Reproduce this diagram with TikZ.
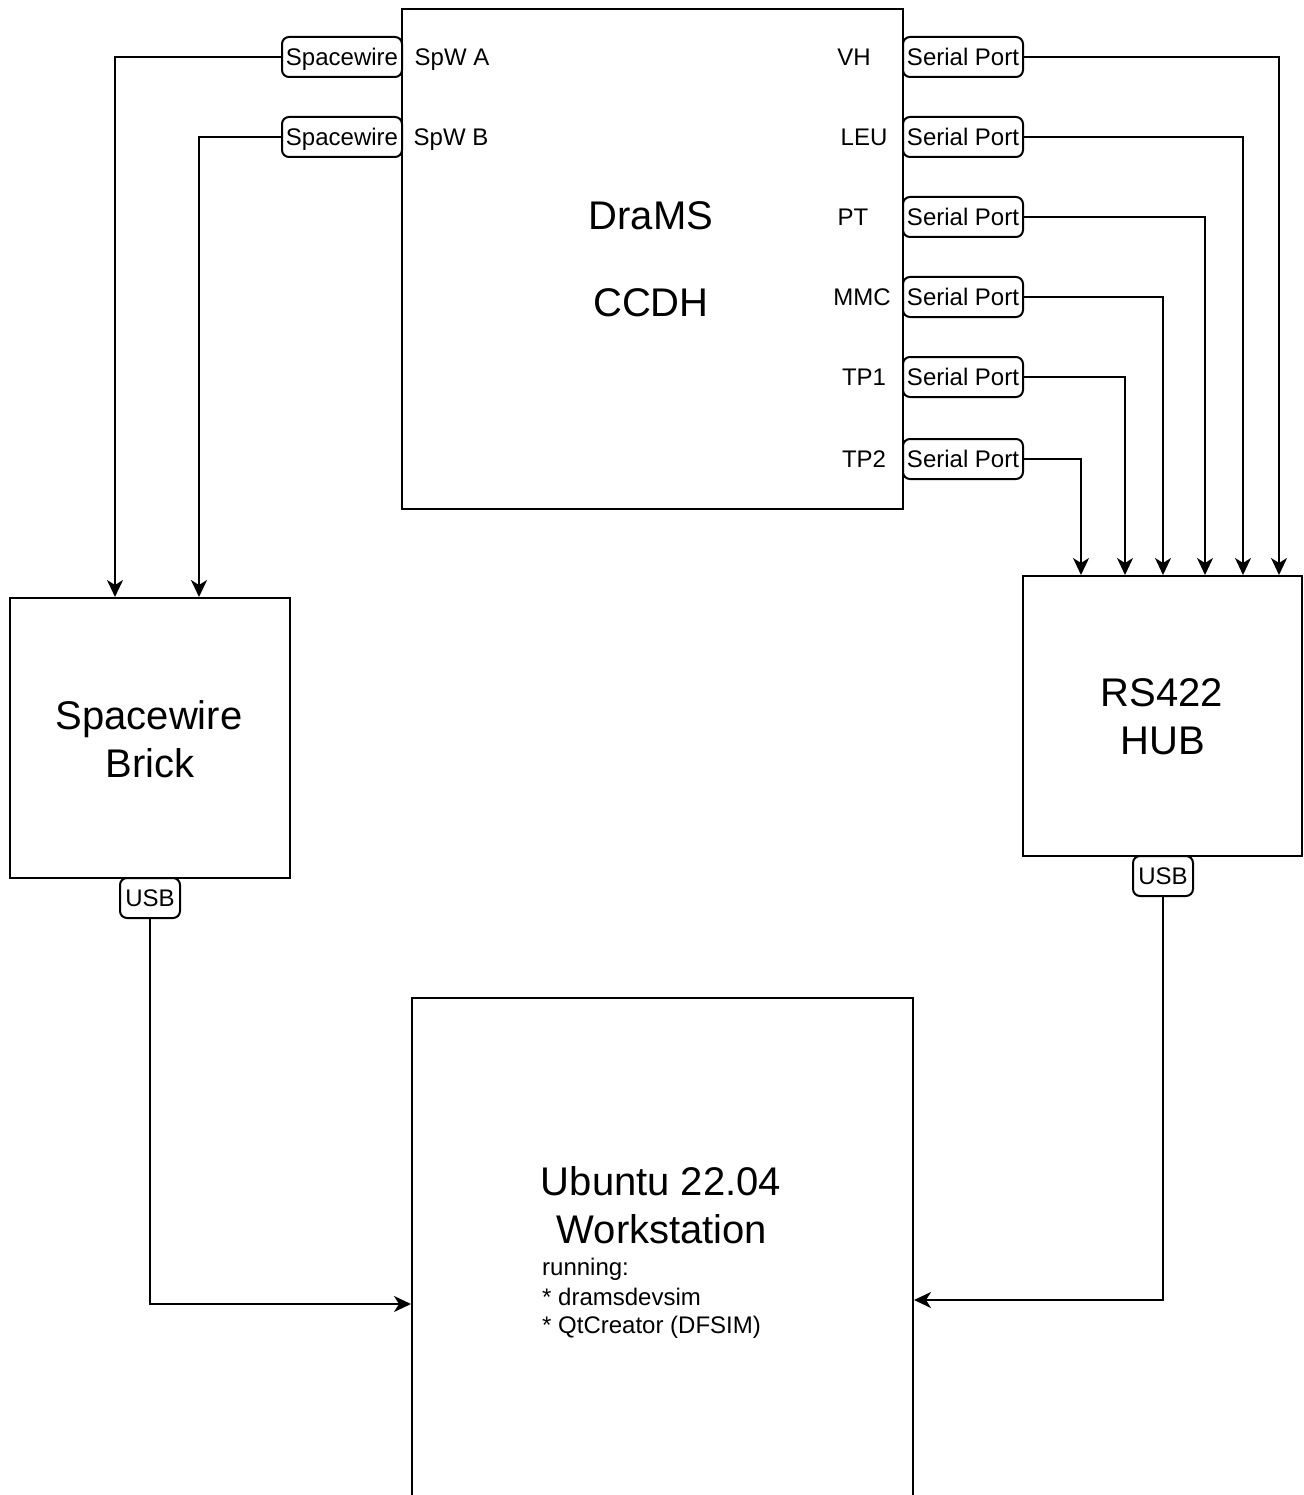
\documentclass[tikz,border=0pt]{standalone}
\usepackage{fontspec}
\setmainfont{Liberation Sans}
\usetikzlibrary{arrows.meta,calc}
\begin{document}
\begin{tikzpicture}[x=1pt,y=-1pt,
  box/.style={draw,line width=2pt,inner sep=0pt},
  port/.style={draw,line width=2pt,rounded corners=7pt,minimum width=120pt,minimum height=40pt,inner sep=0pt,font=\fontsize{24}{28}\selectfont,text height=17pt,text depth=0pt},
  lbl/.style={inner sep=0pt,font=\fontsize{24}{28}\selectfont,text height=17pt,text depth=0pt},
  small/.style={inner sep=0pt,font=\fontsize{24}{28}\selectfont},
  big/.style={inner sep=0pt,font=\fontsize{40}{48}\selectfont,text height=29pt,text depth=0pt},
  arr/.style={line width=2pt,-{Stealth[length=17pt,width=16pt,inset=5pt]}}]
\clip (0,0) rectangle (1303,1495);
\fill[white] (0,0) rectangle (1303,1495);

% DraMS box
\node[box,minimum width=501pt,minimum height=500pt] (drams) at (652.5,259) {};
\node[big] (dramsT) at (651,215) {DraMS};
\node[big] (ccdh) at (651,302) {CCDH};

% internal labels
\node[lbl] (lA) at (452,57) {SpW A};
\node[lbl] (lB) at (451,137) {SpW B};
\node[lbl] (lVH) at (854,57) {VH};
\node[lbl] (lLEU) at (864,137) {LEU};
\node[lbl] (lPT) at (853,217) {PT};
\node[lbl] (lMMC) at (862,297) {MMC};
\node[lbl] (lTP1) at (864,377) {TP1};
\node[lbl] (lTP2) at (864,459) {TP2};

% ports
\node[port] (spa) at (342,57) {Spacewire};
\node[port] (spb) at (342,137) {Spacewire};
\node[port] (sVH) at (963,57) {Serial Port};
\node[port] (sLEU) at (963,137) {Serial Port};
\node[port] (sPT) at (963,217) {Serial Port};
\node[port] (sMMC) at (963,297) {Serial Port};
\node[port] (sTP1) at (963,377) {Serial Port};
\node[port] (sTP2) at (963,459) {Serial Port};

% Spacewire brick
\node[box,minimum width=280pt,minimum height=280pt] (brick) at (150,738) {};
\node[big] (brickT1) at (149,715) {Spacewire};
\node[big] (brickT2) at (150,763) {Brick};
\node[port,minimum width=60pt] (usbL) at (150,898) {USB};

% RS422 hub
\node[box,minimum width=279pt,minimum height=280pt] (hub) at (1162.5,716) {};
\node[big] (hubT1) at (1162,692) {RS422};
\node[big] (hubT2) at (1163,740) {HUB};
\node[port,minimum width=60pt] (usbR) at (1163,876) {USB};

% Workstation
\node[box,minimum width=501pt,minimum height=502pt] (ws) at (662.5,1249) {};
\node[big] (wsT1) at (661,1181) {Ubuntu 22.04};
\node[big] (wsT2) at (662,1229) {Workstation};
\node[small,anchor=base west] (wsL1) at (542,1275) {running:};
\node[small,anchor=base west] (wsL2) at (542,1305) {* dramsdevsim};
\node[small,anchor=base west] (wsL3) at (542,1333) {* QtCreator (DFSIM)};

% connectors
\draw[arr] (spa.west) -| ([xshift=106pt]brick.north west);
\draw[arr] (spb.west) -| ([xshift=190pt]brick.north west);
\draw[arr] (sVH.east) -| ([xshift=257pt]hub.north west);
\draw[arr] (sLEU.east) -| ([xshift=221pt]hub.north west);
\draw[arr] (sPT.east) -| ([xshift=183pt]hub.north west);
\draw[arr] (sMMC.east) -| ([xshift=141pt]hub.north west);
\draw[arr] (sTP1.east) -| ([xshift=103pt]hub.north west);
\draw[arr] (sTP2.east) -| ([xshift=59pt]hub.north west);
\draw[arr] (usbL.south) |- ([yshift=-55pt]ws.west);
\draw[arr] (usbR.south) |- ([yshift=-51pt]ws.east);
\end{tikzpicture}
\end{document}
